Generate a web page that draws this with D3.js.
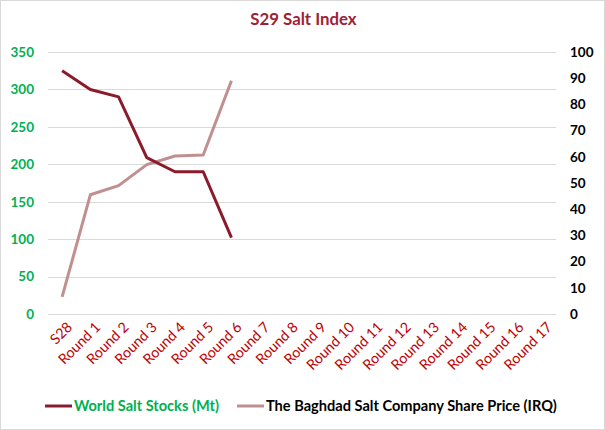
<!DOCTYPE html>
<html>
<head>
<meta charset="utf-8">
<script src="https://cdn.jsdelivr.net/npm/d3@7"></script>
<style>
  body { margin: 0; background: #fff; }
  svg text { font-family: Lato, "Open Sans", sans-serif; }
</style>
</head>
<body>
<div id="chart"></div>
<script>
// categories and series
var rounds = ["S28", "Round 1", "Round 2", "Round 3", "Round 4", "Round 5", "Round 6", "Round 7",
  "Round 8", "Round 9", "Round 10", "Round 11", "Round 12", "Round 13", "Round 14", "Round 15",
  "Round 16", "Round 17"];
var saltStocks = [325, 300, 290, 209, 190, 190, 102];
var sharePrice = [6.5, 45.5, 49, 57, 60.3, 60.7, 89];
var leftTicks = [0, 50, 100, 150, 200, 250, 300, 350];
var rightTicks = [0, 10, 20, 30, 40, 50, 60, 70, 80, 90, 100];

var W = 605, H = 430;
var margin = { left: 48, right: 49, top: 52, bottom: 116 };

var svg = d3.select("#chart").append("svg")
  .attr("width", W).attr("height", H);

svg.append("rect")
  .attr("x", 0.5).attr("y", 0.5)
  .attr("width", W - 1).attr("height", H - 1)
  .attr("fill", "#fff").attr("stroke", "#d9d9d9");

var x = d3.scaleBand().domain(rounds)
  .range([margin.left, W - margin.right]);
var yL = d3.scaleLinear().domain([0, 350])
  .range([H - margin.bottom, margin.top]);
var yR = d3.scaleLinear().domain([0, 100])
  .range([H - margin.bottom, margin.top]);

// title
svg.append("text")
  .attr("x", W / 2 + 1).attr("y", 25)
  .attr("text-anchor", "middle")
  .attr("font-size", 16.8).attr("font-weight", "bold")
  .attr("fill", "#9b2335")
  .text("S29 Salt Index");

// gridlines
svg.append("g").selectAll("line")
  .data(leftTicks).enter().append("line")
  .attr("x1", margin.left).attr("x2", W - margin.right)
  .attr("y1", d => Math.round(yL(d)) + 0.5)
  .attr("y2", d => Math.round(yL(d)) + 0.5)
  .attr("stroke", "#d9d9d9");

// left axis
var leftAxis = svg.append("g")
  .attr("transform", "translate(" + (margin.left - 14) + ",0)")
  .call(d3.axisLeft(yL).tickValues(leftTicks).tickSize(0).tickPadding(0));
leftAxis.select(".domain").remove();
leftAxis.selectAll("text")
  .attr("font-size", 13.5).attr("font-weight", "bold")
  .attr("fill", "#00b050");

// right axis
var rightAxis = svg.append("g")
  .attr("transform", "translate(" + (W - margin.right + 14) + ",0)")
  .call(d3.axisRight(yR).tickValues(rightTicks).tickSize(0).tickPadding(0));
rightAxis.select(".domain").remove();
rightAxis.selectAll("text")
  .attr("font-size", 13.5).attr("font-weight", "bold")
  .attr("fill", "#000");

// x axis labels
var xAxis = svg.append("g")
  .attr("transform", "translate(0," + (H - margin.bottom + 8) + ")")
  .call(d3.axisBottom(x).tickSize(0).tickPadding(0));
xAxis.select(".domain").remove();
xAxis.selectAll("text")
  .attr("font-size", 14.3)
  .attr("fill", "#c00000")
  .attr("text-anchor", "end")
  .attr("dy", "0.6em")
  .attr("transform", "translate(5,0) rotate(-45)");

var cx = d => x(d) + x.bandwidth() / 2;

var lineL = d3.line()
  .x((d, i) => cx(rounds[i]))
  .y(d => yL(d));
var lineR = d3.line()
  .x((d, i) => cx(rounds[i]))
  .y(d => yR(d));

svg.append("path").datum(sharePrice)
  .attr("d", lineR)
  .attr("fill", "none").attr("stroke", "#c09090")
  .attr("stroke-width", 3).attr("stroke-linejoin", "round");

svg.append("path").datum(saltStocks)
  .attr("d", lineL)
  .attr("fill", "none").attr("stroke", "#8b1a2a")
  .attr("stroke-width", 3).attr("stroke-linejoin", "round");

// legend
var legend = [
  { name: "World Salt Stocks (Mt)", color: "#8b1a2a", text: "#00b050", x: 45 },
  { name: "The Baghdad Salt Company Share Price (IRQ)", color: "#c09090", text: "#000", x: 237 }
];
var lg = svg.append("g").selectAll("g")
  .data(legend).enter().append("g")
  .attr("transform", d => "translate(" + d.x + ",406)");
lg.append("line")
  .attr("x1", 0).attr("x2", 27)
  .attr("stroke", d => d.color).attr("stroke-width", 3);
lg.append("text")
  .attr("x", 29).attr("dy", "0.35em")
  .attr("font-size", 14.6).attr("font-weight", "bold")
  .attr("fill", d => d.text)
  .text(d => d.name);
</script>
</body>
</html>
